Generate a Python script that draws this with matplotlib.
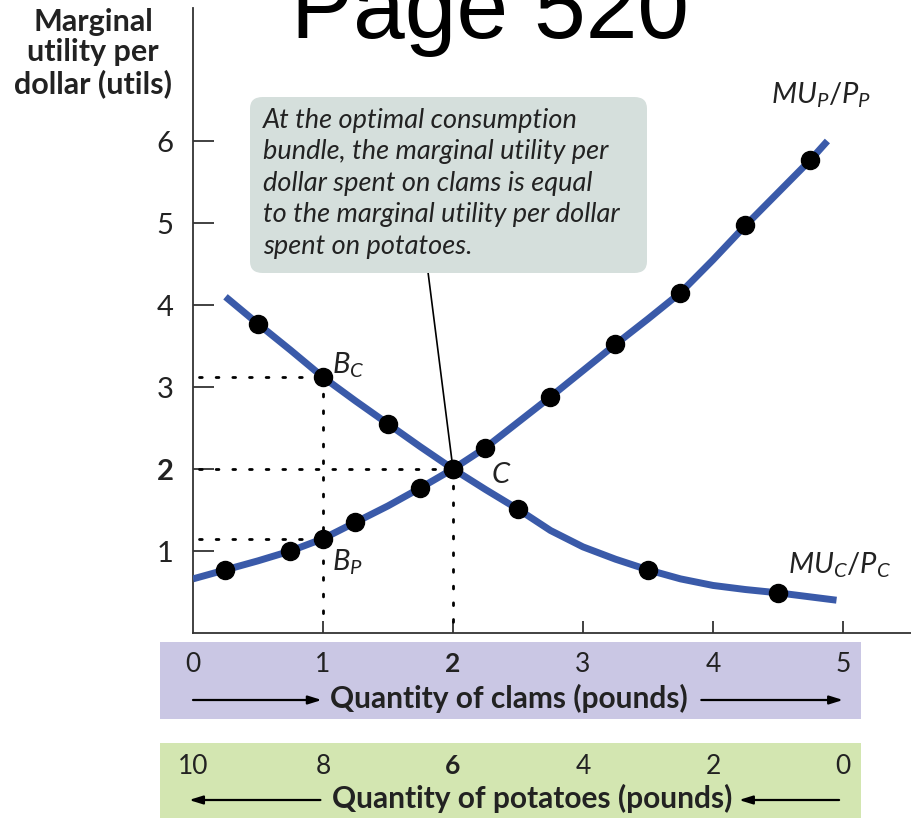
import matplotlib
matplotlib.use("Agg")
import matplotlib.pyplot as plt
from matplotlib import font_manager
from matplotlib.patches import Rectangle, FancyBboxPatch
from matplotlib.transforms import blended_transform_factory

# Marginal utility per dollar curves (clams quantity on x)
mu_p_x = [0, 0.25, 0.5, 0.75, 1, 1.25, 1.5, 1.75, 2, 2.25, 2.5, 2.75, 3, 3.25, 3.5, 3.75, 4, 4.25, 4.5, 4.75, 4.88]
mu_p_y = [0.66, 0.77, 0.88, 1.0, 1.15, 1.35, 1.55, 1.77, 2.0, 2.26, 2.57, 2.88, 3.2, 3.52, 3.83, 4.15, 4.55, 4.97, 5.37, 5.77, 6.0]
mu_c_x = [0.25, 0.5, 0.75, 1, 1.25, 1.5, 1.75, 2, 2.25, 2.5, 2.75, 3, 3.25, 3.5, 3.75, 4, 4.25, 4.5, 4.75, 4.95]
mu_c_y = [4.1, 3.77, 3.45, 3.12, 2.83, 2.55, 2.27, 2.0, 1.75, 1.51, 1.25, 1.05, 0.9, 0.77, 0.66, 0.58, 0.53, 0.49, 0.44, 0.40]

# dots on the curves
pts_p_x = [0.25, 0.75, 1, 1.25, 1.75, 2, 2.25, 2.75, 3.25, 3.75, 4.25, 4.75]
pts_p_y = [0.77, 1.0, 1.15, 1.35, 1.77, 2.0, 2.26, 2.88, 3.52, 4.15, 4.97, 5.77]
pts_c_x = [0.5, 1, 1.5, 2, 2.5, 3.5, 4.5]
pts_c_y = [3.77, 3.12, 2.55, 2.0, 1.51, 0.77, 0.49]

clam_ticks = [0, 1, 2, 3, 4, 5]
clam_labels = ["0", "1", "2", "3", "4", "5"]
potato_labels = ["10", "8", "6", "4", "2", "0"]
y_ticks = [1, 2, 3, 4, 5, 6]

# points B_C, B_P and C
bc = (1, 3.12)
bp = (1, 1.15)
c = (2, 2.0)


def pick(names):
    for n in names:
        try:
            font_manager.findfont(n, fallback_to_default=False)
            return n
        except Exception:
            pass
    return "DejaVu Sans"


narrow = pick(["Liberation Sans Narrow", "Lato", "DejaVu Sans"])
ital = pick(["Lato", "Open Sans", "DejaVu Sans"])

plt.rcParams["mathtext.fontset"] = "custom"
plt.rcParams["mathtext.it"] = ital + ":italic"
plt.rcParams["mathtext.rm"] = ital

BLUE = "#3a5aa9"
DARK = "#333333"
INK = "#222222"

fig = plt.figure(figsize=(9.12, 8.18), dpi=100)
W, H = 912, 818

ax = fig.add_axes([193 / W, 185 / H, 719 / W, 625 / H])
ax.set_xlim(0, 719 / 130)
ax.set_ylim(0, 625 / 82)
ax.set_facecolor("none")

for s in ["top", "right"]:
    ax.spines[s].set_visible(False)
for s in ["left", "bottom"]:
    ax.spines[s].set_color(DARK)
    ax.spines[s].set_linewidth(1.3)

ax.set_yticks(y_ticks)
ax.set_yticklabels([str(v) for v in y_ticks], family=narrow, fontsize=21, color=INK)
ax.get_yticklabels()[1].set_fontweight("bold")
ax.tick_params(axis="y", direction="in", length=15, width=1.3, color=DARK, pad=14)
ax.set_xticks(clam_ticks[1:])
ax.set_xticklabels([])
ax.tick_params(axis="x", direction="in", length=9, width=1.3, color=DARK)

# dotted guide lines
dot = dict(color="black", lw=2.0, linestyle=(0, (1, 5)), dash_capstyle="round", zorder=2)
ax.plot([0.05, bc[0]], [bc[1], bc[1]], **dot)
ax.plot([bc[0], bc[0]], [bc[1], 0.12], **dot)
ax.plot([0.05, bp[0]], [bp[1], bp[1]], **dot)
ax.plot([0.05, c[0]], [c[1], c[1]], **dot)
ax.plot([c[0], c[0]], [c[1], 0.12], **dot)

# curves and dots
ax.plot(mu_p_x, mu_p_y, color=BLUE, lw=5, solid_capstyle="butt", solid_joinstyle="round", zorder=3)
ax.plot(mu_c_x, mu_c_y, color=BLUE, lw=5, solid_capstyle="butt", solid_joinstyle="round", zorder=3)
ax.plot(pts_p_x, pts_p_y, "o", color="black", ms=13, zorder=4)
ax.plot(pts_c_x, pts_c_y, "o", color="black", ms=13, zorder=4)

# labels on the curves
lab = dict(fontsize=21, color=INK, va="center", ha="left")
ax.text(1.07, 3.27, r"$B_C$", **lab)
ax.text(1.07, 0.86, r"$B_P$", **lab)
ax.text(2.29, 1.93, r"$C$", **lab)
ax.text(4.45, 6.56, r"$MU_P/P_P$", **lab)
ax.text(4.58, 0.83, r"$MU_C/P_C$", **lab)

# annotation box
box = FancyBboxPatch((250 / W, 1 - 273 / H), 397 / W, 176 / H,
                     boxstyle="round,pad=0,rounding_size=0.014",
                     transform=fig.transFigure, facecolor="#d5dfdc", edgecolor="none", zorder=5)
fig.patches.append(box)
fig.text(263 / W, 1 - 108 / H,
         "At the optimal consumption\nbundle, the marginal utility per\n"
         "dollar spent on clams is equal\nto the marginal utility per dollar\n"
         "spent on potatoes.",
         family=ital, style="italic", fontsize=19.5, color=INK,
         ha="left", va="top", linespacing=1.32, zorder=6)
ax.annotate("", xy=c, xytext=((428 - 193) / 130, (633 - 272) / 82),
            arrowprops=dict(arrowstyle="-", color="black", lw=1.2, shrinkA=0, shrinkB=0))

# y axis title
fig.text(93 / W, 1 - 53 / H, "Marginal\nutility per\ndollar (utils)", family=narrow,
         fontweight="bold", fontsize=22, ha="center", va="center", linespacing=1.12, color=INK)

# page title
fig.text(490 / W, 1 - 38 / H, "Page 520", family="Liberation Sans", fontsize=67,
         ha="center", va="baseline", color="black")

# bands below the axis
fig.patches.append(Rectangle((160 / W, 1 - 719 / H), 701 / W, 77 / H, transform=fig.transFigure,
                             facecolor="#cac7e4", edgecolor="none", zorder=-1))
fig.patches.append(Rectangle((160 / W, 0), 701 / W, 75 / H, transform=fig.transFigure,
                             facecolor="#d3e6b1", edgecolor="none", zorder=-1))

tr = blended_transform_factory(ax.transData, fig.transFigure)
for i, x in enumerate(clam_ticks):
    w = "bold" if x == 2 else "normal"
    ax.text(x, 1 - 664 / H, clam_labels[i], transform=tr, family=narrow, fontsize=19,
            fontweight=w, ha="center", va="center", color=INK)
    ax.text(x, 1 - 766 / H, potato_labels[i], transform=tr, family=narrow, fontsize=19,
            fontweight=w, ha="center", va="center", color=INK)

ax.text(2.43, 1 - 698 / H, "Quantity of clams (pounds)", transform=tr, family=narrow,
        fontweight="bold", fontsize=21.5, ha="center", va="center", color=INK)
ax.text(2.61, 1 - 798 / H, "Quantity of potatoes (pounds)", transform=tr, family=narrow,
        fontweight="bold", fontsize=21.5, ha="center", va="center", color=INK)

arr = dict(arrowstyle="-|>,head_length=0.8,head_width=0.25", color="black", lw=1.6,
           shrinkA=0, shrinkB=0)
ay1 = 1 - 700 / H
ay2 = 1 - 800 / H
ax.annotate("", xy=(0.99, ay1), xytext=(0.0, ay1), xycoords=tr, textcoords=tr, arrowprops=arr)
ax.annotate("", xy=(5.0, ay1), xytext=(3.91, ay1), xycoords=tr, textcoords=tr, arrowprops=arr)
ax.annotate("", xy=(-0.03, ay2), xytext=(0.98, ay2), xycoords=tr, textcoords=tr, arrowprops=arr)
ax.annotate("", xy=(4.2, ay2), xytext=(4.97, ay2), xycoords=tr, textcoords=tr, arrowprops=arr)

fig.savefig("out.png", dpi=100)
